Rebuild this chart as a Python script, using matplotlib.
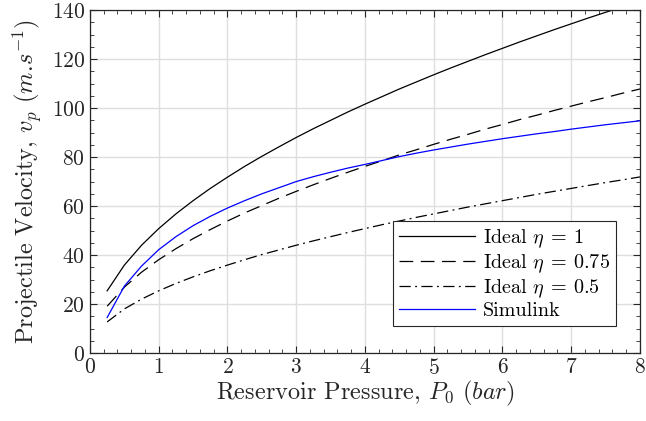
import matplotlib
matplotlib.use("Agg")
import matplotlib.pyplot as plt
from matplotlib.ticker import MultipleLocator

# Computer Modern look for all text
plt.rcParams['font.family'] = 'serif'
plt.rcParams['font.serif'] = ['cmr10']
plt.rcParams['mathtext.fontset'] = 'cm'
plt.rcParams['axes.formatter.use_mathtext'] = True

# Reservoir pressure (bar)
pressure = [0.25, 0.5, 0.75, 1.0, 1.25, 1.5, 1.75, 2.0, 2.25, 2.5, 2.75, 3.0,
            3.25, 3.5, 3.75, 4.0, 4.25, 4.5, 4.75, 5.0, 5.25, 5.5, 5.75, 6.0,
            6.25, 6.5, 6.75, 7.0, 7.25, 7.5, 7.75, 8.0]

# Ideal projectile velocity (m/s) for each efficiency
ideal_100 = [25.4, 35.9, 44.0, 50.8, 56.8, 62.2, 67.2, 71.8, 76.2, 80.3, 84.2, 88.0,
             91.6, 95.0, 98.4, 101.6, 104.7, 107.8, 110.7, 113.6, 116.4, 119.1, 121.8, 124.4,
             127.0, 129.5, 132.0, 134.4, 136.8, 139.1, 141.4, 143.7]
ideal_075 = [19.1, 26.9, 33.0, 38.1, 42.6, 46.7, 50.4, 53.9, 57.2, 60.2, 63.2, 66.0,
             68.7, 71.3, 73.8, 76.2, 78.5, 80.9, 83.0, 85.2, 87.3, 89.3, 91.4, 93.3,
             95.3, 97.1, 99.0, 100.8, 102.6, 104.3, 106.1, 107.8]
ideal_050 = [12.7, 18.0, 22.0, 25.4, 28.4, 31.1, 33.6, 35.9, 38.1, 40.2, 42.1, 44.0,
             45.8, 47.5, 49.2, 50.8, 52.4, 53.9, 55.4, 56.8, 58.2, 59.6, 60.9, 62.2,
             63.5, 64.8, 66.0, 67.2, 68.4, 69.6, 70.7, 71.9]

# Simulink model results (m/s)
simulink = [14.5, 27.3, 35.5, 42.2, 47.5, 52.0, 55.8, 59.2, 62.2, 65.0, 67.5, 70.0,
            72.0, 73.8, 75.5, 77.0, 78.6, 80.2, 81.6, 82.9, 84.1, 85.3, 86.4, 87.5,
            88.5, 89.5, 90.4, 91.4, 92.3, 93.2, 94.0, 94.8]

fig = plt.figure(figsize=(6.46, 4.21), dpi=100)
ax = fig.add_axes([0.1393, 0.1615, 0.8514, 0.8145])

lw = 0.9
ax.plot(pressure, ideal_100, color='black', lw=lw, label=r'Ideal $\eta\:=\:1$')
ax.plot(pressure, ideal_075, color='black', lw=lw, dashes=(11, 6), label=r'Ideal $\eta\:=\:0.75$')
ax.plot(pressure, ideal_050, color='black', lw=lw, dashes=(9, 3.5, 1.5, 3.5), label=r'Ideal $\eta\:=\:0.5$')
ax.plot(pressure, simulink, color='#0000ff', lw=lw, label='Simulink')

ax.set_xlim(0, 8)
ax.set_ylim(0, 140)
ax.xaxis.set_major_locator(MultipleLocator(1))
ax.xaxis.set_minor_locator(MultipleLocator(0.2))
ax.yaxis.set_major_locator(MultipleLocator(20))
ax.yaxis.set_minor_locator(MultipleLocator(5))

ax.grid(True, which='major', color='#dedede', lw=1.0)
ax.set_axisbelow(True)
ax.tick_params(which='both', direction='in', top=True, right=True,
               color='#262626', labelsize=15.5, labelcolor='#262626')
ax.tick_params(which='major', length=5, width=0.8)
ax.tick_params(which='minor', length=3, width=0.6)
for s in ax.spines.values():
    s.set_color('#262626')
    s.set_linewidth(0.9)

ax.set_xlabel(r'Reservoir Pressure, $P_0$ $(bar)$', fontsize=17.5, color='#262626', labelpad=1)
ax.set_ylabel(r'Projectile Velocity, $v_p$ $(m.\!s^{-1})$', fontsize=17.5, color='#262626', labelpad=5)

leg = ax.legend(loc='lower right', bbox_to_anchor=(0.957, 0.078), fontsize=14.5,
                fancybox=False, edgecolor='#262626', framealpha=1,
                handlelength=3.8, handletextpad=0.4, borderpad=0.3, labelspacing=0.12,
                borderaxespad=0)
leg.get_frame().set_linewidth(0.8)

fig.savefig('out.png', dpi=100)
